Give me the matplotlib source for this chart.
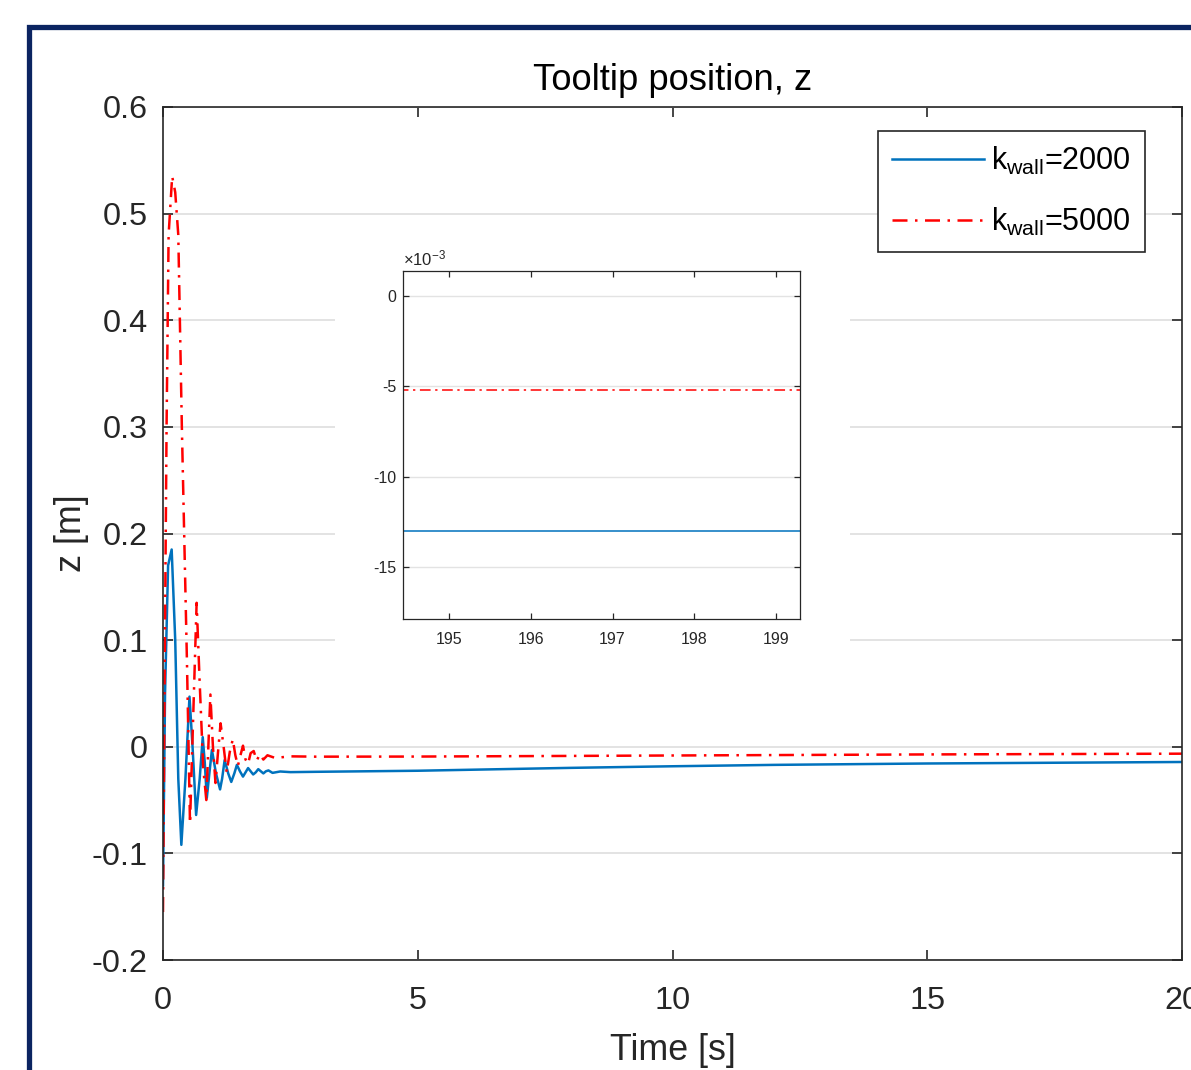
import numpy as np
import matplotlib
matplotlib.use('Agg')
import matplotlib.pyplot as plt
from matplotlib.patches import Rectangle
from matplotlib.ticker import FuncFormatter

plt.rcParams['font.family'] = ['Liberation Sans', 'DejaVu Sans']
plt.rcParams['mathtext.fontset'] = 'custom'
plt.rcParams['mathtext.rm'] = 'Liberation Sans'
plt.rcParams['mathtext.it'] = 'Liberation Sans:italic'
plt.rcParams['axes.unicode_minus'] = False

# tooltip position, k_wall = 2000 (solid blue)
t_2000 = [0, 0.04, 0.1, 0.17, 0.24, 0.3, 0.36, 0.44, 0.52, 0.58, 0.65, 0.72, 0.78, 0.82, 0.86,
          0.91, 0.96, 1.04, 1.12, 1.16, 1.21, 1.28, 1.34, 1.4, 1.45, 1.51, 1.57, 1.62, 1.67,
          1.72, 1.77, 1.82, 1.87, 1.92, 1.97, 2.02, 2.07, 2.15, 2.3, 2.5, 3, 5, 8, 10, 12, 15,
          20, 50, 100, 150, 200]
z_2000 = [-0.13, 0.05, 0.17, 0.185, 0.1, -0.03, -0.092, -0.03, 0.047, 0.0, -0.064, -0.03,
          0.009, -0.015, -0.048, -0.025, -0.003, -0.025, -0.040, -0.03, -0.0125, -0.025,
          -0.033, -0.025, -0.017, -0.023, -0.028, -0.024, -0.020, -0.023, -0.026, -0.024,
          -0.021, -0.023, -0.025, -0.023, -0.0222, -0.0245, -0.0232, -0.0238, -0.0235,
          -0.0225, -0.0198, -0.0183, -0.0170, -0.0157, -0.0143, -0.0134, -0.0131, -0.0130,
          -0.0130]

# k_wall = 5000 (red dash-dot)
t_5000 = [0, 0.03, 0.07, 0.11, 0.18, 0.24, 0.3, 0.37, 0.47, 0.53, 0.6, 0.66, 0.72, 0.79, 0.85,
          0.89, 0.93, 0.98, 1.03, 1.08, 1.13, 1.19, 1.25, 1.31, 1.37, 1.42, 1.47, 1.52, 1.57,
          1.62, 1.67, 1.72, 1.78, 1.84, 1.9, 1.97, 2.05, 2.2, 2.5, 3, 5, 10, 15, 20, 50, 100,
          150, 200]
z_5000 = [-0.155, 0.05, 0.3, 0.48, 0.535, 0.52, 0.48, 0.3, 0.08, -0.072, 0.04, 0.135, 0.06,
          -0.02, -0.05, 0.0, 0.049, 0.0, -0.034, -0.005, 0.022, 0.0, -0.024, -0.005, 0.007,
          -0.008, -0.018, -0.008, 0.001, -0.012, -0.016, -0.006, -0.004, -0.013, -0.007,
          -0.012, -0.008, -0.0105, -0.009, -0.0093, -0.0092, -0.0082, -0.0072, -0.0065,
          -0.0057, -0.0053, -0.0052, -0.0052]

labels = ['k$_{\\mathrm{wall}}$=2000', 'k$_{\\mathrm{wall}}$=5000']
x_ticks = [0, 5, 10, 15, 20]
y_ticks = [-0.2, -0.1, 0, 0.1, 0.2, 0.3, 0.4, 0.5, 0.6]
inset_x_ticks = [195, 196, 197, 198, 199]
inset_y_ticks = [-0.015, -0.01, -0.005, 0]

blue = '#0072BD'
red = '#FF0000'
dark = '#262626'
W, H = 1191, 1070

fig = plt.figure(figsize=(W/100, H/100), dpi=100)

# navy frame of the source page
fig.add_artist(Rectangle((28.5/W, -0.1), 1.2, 1.1 - 27.5/H, transform=fig.transFigure,
                         fill=False, edgecolor='#0b2461', lw=3.8))

ax = fig.add_axes([163/W, 1 - 960/H, (1182-163)/W, (960-107)/H])
ax.plot(t_2000, z_2000, color=blue, lw=1.8, label=labels[0])
ax.plot(t_5000, z_5000, color=red, lw=1.8, dashes=(6, 3, 1, 3), label=labels[1])
ax.set_xlim(0, 20)
ax.set_ylim(-0.2, 0.6)
ax.set_xticks(x_ticks)
ax.set_yticks(y_ticks)
ax.yaxis.set_major_formatter(FuncFormatter(lambda v, p: '%g' % round(v, 2)))
ax.yaxis.grid(True, color='#e3e3e3', lw=1.4)
ax.set_axisbelow(True)
ax.tick_params(direction='in', length=7, width=1.2, top=True, right=True,
               labelsize=23.3, colors=dark)
ax.tick_params(axis='y', pad=11)
ax.tick_params(axis='x', pad=19)
for s in ax.spines.values():
    s.set_color(dark)
    s.set_linewidth(1.2)
ax.set_title('Tooltip position, z', fontsize=26.2, pad=12, color='black')
ax.set_xlabel('Time [s]', fontsize=25.8, color=dark, labelpad=12)
ax.set_ylabel('z [m]', fontsize=25.8, color=dark, labelpad=2)

# white area behind the inset hides the grid
ax.add_patch(Rectangle((335/W, 1 - 662/H), (850-335)/W, (662-240)/H,
                       transform=fig.transFigure, facecolor='white', edgecolor='none',
                       zorder=1, clip_on=False))

leg = ax.legend(loc='upper right', bbox_to_anchor=((1145-163)/(1182-163), (960-131)/(960-107)),
                borderaxespad=0, fontsize=22, fancybox=False, framealpha=1,
                handlelength=3.0, handletextpad=0.25, labelspacing=0.95, borderpad=0.45)
leg.get_frame().set_edgecolor(dark)
leg.get_frame().set_linewidth(1.2)

# inset zoom on the steady state
axin = fig.add_axes([403/W, 1 - 619/H, (800-403)/W, (619-271)/H])
axin.plot(t_2000, z_2000, color=blue, lw=1.1)
axin.plot(t_5000, z_5000, color=red, lw=1.1, dashes=(7, 3, 1.5, 3))
axin.set_xlim(194.44, 199.29)
axin.set_ylim(-0.0179, 0.0014)
axin.set_xticks(inset_x_ticks)
axin.set_yticks(inset_y_ticks)
axin.yaxis.set_major_formatter(FuncFormatter(lambda v, p: '%d' % round(v*1000)))
axin.yaxis.grid(True, color='#e3e3e3', lw=1.0)
axin.set_axisbelow(True)
axin.tick_params(direction='in', length=4, width=0.9, top=True, right=True,
                 labelsize=11.5, colors=dark, pad=5)
axin.tick_params(axis='x', pad=9)
for s in axin.spines.values():
    s.set_color(dark)
    s.set_linewidth(0.9)
axin.text(0, 1.008, '$\\times$10$^{-3}$', transform=axin.transAxes, fontsize=12,
          color=dark, ha='left', va='bottom')

fig.savefig('out.png', dpi=100)
